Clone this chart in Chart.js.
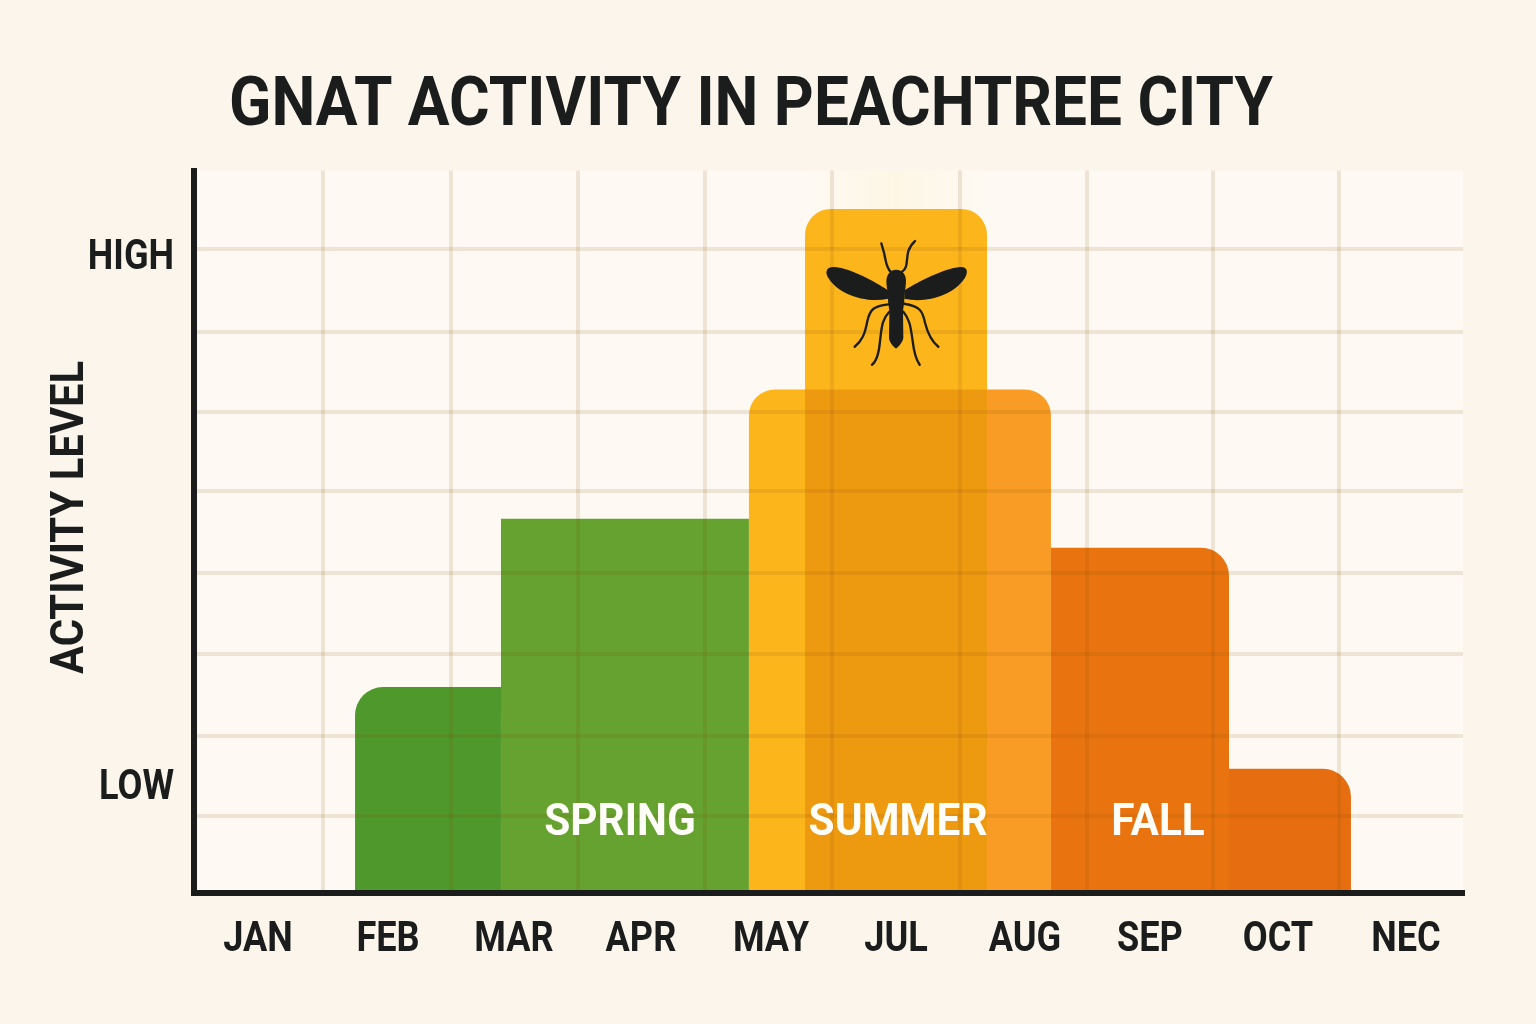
<!DOCTYPE html>
<html><head><meta charset="utf-8">
<style>html,body{margin:0;padding:0;background:#fbf5ec}canvas{display:block}</style>
<script src="https://cdn.jsdelivr.net/npm/chart.js@4"></script>
</head><body><canvas id="c" width="1536" height="1024"></canvas>
<script>
const chartTitle = 'GNAT ACTIVITY IN PEACHTREE CITY';
const axisTitle = 'ACTIVITY LEVEL';
const months = ['JAN','FEB','MAR','APR','MAY','JUL','AUG','SEP','OCT','NEC'];
const monthCenters = [0.504,1.529,2.522,3.522,4.547,5.532,6.548,7.533,8.542,9.551];
const monthGrid = [1.017,2.025,3.026,4.027,5.027,6.036,7.037,8.03,9.023];
const levelGrid = [10.66,21.7,33.1,44.3,55.7,66.6,77.7,89.2];
const levelLabels = ['LOW','HIGH'];
const levelLabelValues = [14.4,87.8];
const barStarts = [1.269,2.419,4.815,4.373,6.753,8.156];
const barEnds   = [2.419,4.373,6.249,6.753,8.156,9.117];
const barValues = [28.5,51.8,94.7,69.7,47.8,17.2];
const barColors = ['#4f982b','#66a22f','#fcb61c','#fcb61c','#e9730f','#e66e10'];
const barRadii  = [[28,0],[0,0],[26,26],[26,26],[0,28],[0,28]];
const seasons = ['SPRING','SUMMER','FALL'];
const seasonX = [3.357,5.548,7.596];
const seasonY = [9.55,9.55,9.55];
const INK = '#1b1d1c';
const FONT = 'Roboto';
const GRID = 'rgba(120,70,0,.12)';
const CONDENSE_BY_SIZE = {68:0.914,46:0.907,45:0.94,42:0.86};

function condenseText(ctx){
  if(ctx._condensed) return;
  ctx._condensed = true;
  const orig = ctx.fillText.bind(ctx);
  ctx.fillText = (t,x,y)=>{
    const size = parseInt((ctx.font.match(/(\d+)px/)||[])[1],10);
    ctx.save();ctx.translate(x,y);ctx.scale(CONDENSE_BY_SIZE[size]||0.86,1);orig(t,0,0);ctx.restore();
  };
}

function mainBarFill(chart){
  const x = chart.scales.x;
  if(!x) return barColors[3];
  const a = x.getPixelForValue(barStarts[3]), b = x.getPixelForValue(barEnds[3]);
  const g = chart.ctx.createLinearGradient(a,0,b,0);
  const p1 = (x.getPixelForValue(barStarts[2])-a)/(b-a), p2 = (x.getPixelForValue(barEnds[2])-a)/(b-a);
  g.addColorStop(0,'#fcb61c');g.addColorStop(p1,'#fcb61c');
  g.addColorStop(p1,'#ee9a10');g.addColorStop(p2,'#ee9a10');
  g.addColorStop(p2,'#f99c25');g.addColorStop(1,'#f99c25');
  return g;
}

const spanBars = {id:'spanBars',afterDatasetsUpdate(chart){
  const x = chart.scales.x, meta = chart.getDatasetMeta(0);
  meta.data.forEach((el,i)=>{
    const a = x.getPixelForValue(barStarts[i]), b = x.getPixelForValue(barEnds[i]);
    el.x = (a+b)/2; el.width = b-a;
  });
}};

const backdrop = {id:'backdrop',beforeDraw(chart){
  const {ctx,chartArea:a,scales:{x}} = chart;
  condenseText(ctx);
  ctx.save();
  ctx.fillStyle='#fefaf3';ctx.fillRect(a.left,a.top,a.right-a.left,a.bottom-a.top);
  const l=x.getPixelForValue(barStarts[2]), r=x.getPixelForValue(barEnds[2]);
  const g=ctx.createLinearGradient(l,0,r,0);
  g.addColorStop(0,'rgba(252,225,150,0)');g.addColorStop(.5,'rgba(252,225,150,.15)');g.addColorStop(1,'rgba(252,225,150,0)');
  ctx.fillStyle=g;ctx.fillRect(l,a.top,r-l,60);
  ctx.restore();
}};

function drawGnat(ctx,cx,cy){
  ctx.save();ctx.translate(cx,cy);ctx.scale(1/3,1/3);ctx.translate(-348,-400);
  ctx.fillStyle=INK;ctx.strokeStyle=INK;ctx.lineCap='round';ctx.lineWidth=7;
  const fill=d=>ctx.fill(new Path2D(d));
  fill('M325,378 C280,350 215,313 165,308 C138,305 132,325 148,345 C175,385 250,418 325,403 Z');
  fill('M373,378 C420,350 490,313 540,308 C566,306 566,328 548,350 C515,392 440,418 373,403 Z');
  fill('M348,316 C368,316 379,332 378,352 C377,372 373,385 373,405 C373,420 369,430 369,445 L370,520 C369,532 356,548 348,552 C340,548 327,532 327,520 L328,445 C328,430 324,420 324,405 C324,385 320,372 319,352 C319,332 330,316 348,316 Z');
  ['M332,322 C318,310 318,290 312,265 L304,237',
   'M366,322 C385,310 378,285 385,260 C390,245 397,237 405,230',
   'M325,420 C280,425 270,435 262,470 C255,510 245,530 224,547',
   'M372,418 C420,425 428,440 435,475 C445,515 460,535 475,547',
   'M328,442 C305,465 305,490 300,530 C297,565 290,590 276,601',
   'M370,442 C390,465 392,490 398,530 C402,565 408,585 419,601'
  ].forEach(d=>ctx.stroke(new Path2D(d)));
  ctx.restore();
}

const overlays = {id:'overlays',afterDraw(chart){
  const {ctx,scales:{x,y}} = chart;
  ctx.save();
  ctx.fillStyle='#fffdf8';ctx.font='bold 45px '+FONT;ctx.textAlign='center';ctx.textBaseline='middle';
  seasons.forEach((s,i)=>ctx.fillText(s,x.getPixelForValue(seasonX[i]),y.getPixelForValue(seasonY[i])));
  ctx.fillStyle=INK;ctx.font='bold 46px '+FONT;
  ctx.translate(71,517.5);ctx.rotate(-Math.PI/2);ctx.fillText(axisTitle,0,0);
  ctx.restore();
  drawGnat(ctx,x.getPixelForValue((barStarts[2]+barEnds[2])/2),y.getPixelForValue(82.4));
}};

new Chart(document.getElementById('c'),{
  type:'bar',
  data:{datasets:[{
    data:barValues.map((v,i)=>({x:(barStarts[i]+barEnds[i])/2,y:v})),
    backgroundColor:c=>c.dataIndex===3?mainBarFill(c.chart):barColors[c.dataIndex],
    borderWidth:0,
    borderRadius:c=>({topLeft:barRadii[c.dataIndex][0],topRight:barRadii[c.dataIndex][1],bottomLeft:0,bottomRight:0})
  }]},
  plugins:[backdrop,spanBars,overlays],
  options:{
    responsive:false,animation:false,devicePixelRatio:1,
    layout:{padding:{left:39,right:73,top:0,bottom:0}},
    plugins:{
      legend:{display:false},tooltip:{enabled:false},
      title:{display:true,text:chartTitle,color:INK,font:{family:FONT,weight:'bold',size:68,lineHeight:1.2},padding:{top:67,bottom:22}}
    },
    scales:{
      x:{type:'linear',position:'bottom',weight:1,min:0,max:10,offset:false,
        afterBuildTicks:s=>{s.ticks=monthCenters.map(v=>({value:v}));},
        afterFit:s=>{s.height=131;},
        grid:{display:false,offset:false},border:{display:false},
        ticks:{autoSkip:false,maxRotation:0,color:INK,font:{family:FONT,weight:'bold',size:42},padding:14,callback:(v,i)=>months[i]}},
      xGrid:{type:'linear',position:'bottom',weight:0,min:0,max:10,offset:false,
        afterBuildTicks:s=>{s.ticks=monthGrid.map(v=>({value:v}));},
        afterFit:s=>{s.height=0;},
        grid:{color:GRID,lineWidth:4,z:1,drawTicks:false,offset:false},
        border:{display:true,color:INK,width:6,z:2},
        ticks:{display:false}},
      y:{type:'linear',position:'left',min:0,max:100,
        afterBuildTicks:s=>{s.ticks=levelGrid.map(v=>({value:v}));},
        afterFit:s=>{s.width=0;},
        grid:{color:GRID,lineWidth:4,z:1,drawTicks:false},
        border:{display:true,color:INK,width:6,z:2},
        ticks:{display:false}},
      yLabel:{type:'linear',position:'left',min:0,max:100,
        afterBuildTicks:s=>{s.ticks=levelLabelValues.map(v=>({value:v}));},
        afterFit:s=>{s.width=155;},
        grid:{display:false},border:{display:false},
        ticks:{autoSkip:false,color:INK,font:{family:FONT,weight:'bold',size:42},padding:12,callback:(v,i)=>levelLabels[i]}}
    }
  }
});
</script></body></html>
